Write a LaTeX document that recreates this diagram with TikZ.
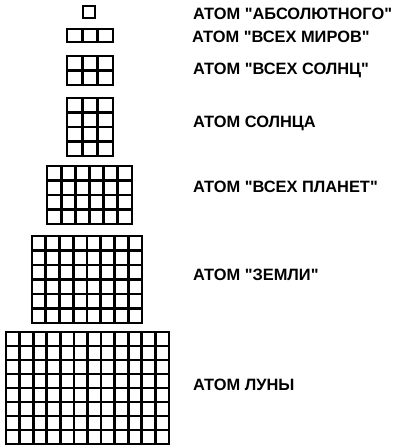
\documentclass[tikz,border=0pt]{standalone}
\usepackage{fontspec}
\newfontfamily\atomfont{Liberation Sans}
\usepackage{tikz}
\tikzstyle{gridline} = [line width=2.8pt, line cap=rect]
\tikzstyle{atomlabel} = [anchor=west, inner sep=0pt, font=\atomfont\fontsize{16.4}{18}\selectfont\bfseries]

\begin{document}
\begin{tikzpicture}[x=1pt, y=1pt]
    \useasboundingbox (0,0) rectangle (400,-447);

        % grids: left, top, width, height, columns, rows
        \foreach \gx/\gy/\gw/\gh/\gc/\gr in {83/6/12/12/1/1, 67/29/46/13/3/1, 67/56/46/29/3/2, 67/98/46/58/3/4, 47/166/85/58/6/4, 32/236/110/87/8/6, 6/332/163/112/12/8} {
            \foreach \i in {0,...,\gc}
                \draw[gridline] (\gx+\i*\gw/\gc,-\gy) -- (\gx+\i*\gw/\gc,-\gy-\gh);
            \foreach \j in {0,...,\gr}
                \draw[gridline] (\gx,-\gy-\j*\gh/\gr) -- (\gx+\gw,-\gy-\j*\gh/\gr);
        }

        \node (absolute) [atomlabel] at (193,-14) {АТОМ "АБСОЛЮТНОГО"};
        \node (worlds) [atomlabel] at (192,-37) {АТОМ "ВСЕХ МИРОВ"};
        \node (suns) [atomlabel] at (193,-70) {АТОМ "ВСЕХ СОЛНЦ"};
        \node (sun) [atomlabel] at (193,-123) {АТОМ СОЛНЦА};
        \node (planets) [atomlabel] at (193,-187) {АТОМ "ВСЕХ ПЛАНЕТ"};
        \node (earth) [atomlabel] at (193,-275) {АТОМ "ЗЕМЛИ"};
        \node (moon) [atomlabel] at (193,-385) {АТОМ ЛУНЫ};

    \end{tikzpicture}
\end{document}
